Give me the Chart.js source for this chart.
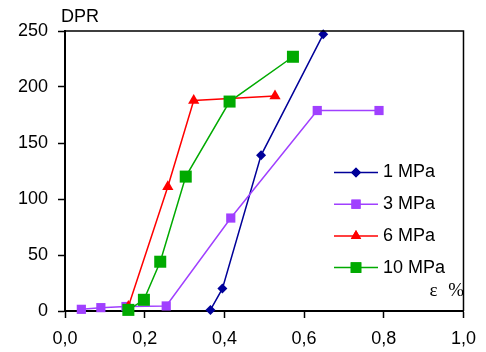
<!DOCTYPE html>
<html lang="en">
<head>
  <meta charset="UTF-8" />
  <title>DPR vs strain</title>
  <style>
    body{margin:0;background:#fff}
    #wrap{width:486px;height:352px}
    canvas{display:block}
  </style>
</head>
<body>
  <div id="wrap"><canvas id="chart"></canvas></div>

  <script src="https://cdn.jsdelivr.net/npm/chart.js"></script>
  <script>
  /* ---------- data ---------- */
  const seriesNames = ['1 MPa','3 MPa','6 MPa','10 MPa'];

  const eps1  = [0.365, 0.395, 0.492, 0.648];
  const dpr1  = [1, 20, 139, 247];

  const eps3  = [0.041, 0.090, 0.153, 0.254, 0.416, 0.633, 0.788];
  const dpr3  = [1.5, 3, 4, 4.5, 83, 179, 179];

  const eps6  = [0.159, 0.258, 0.323, 0.527];
  const dpr6  = [4, 111, 188, 192];

  const eps10 = [0.159, 0.198, 0.239, 0.303, 0.413, 0.572];
  const dpr10 = [1, 10, 44, 120, 187, 227];

  const xTicks = [0, 0.2, 0.4, 0.6, 0.8, 1.0];
  const yTicks = [0, 50, 100, 150, 200, 250];

  const colors  = ['#000099','#a040ff','#ff0000','#00aa00'];
  const shapes  = ['rectRot','rect','triangle','rect'];
  const radii   = [5, 6.5, 6.5, 8.5];
  const legendRadii = [5, 6.5, 6, 7.5];

  const pts = (xs, ys) => xs.map((x,i)=>({x, y:ys[i]}));
  const allX = [eps1, eps3, eps6, eps10];
  const allY = [dpr1, dpr3, dpr6, dpr10];

  const FONT = '"Liberation Sans", Arial, sans-serif';

  const datasets = seriesNames.map((name,i)=>({
    label: name,
    data: pts(allX[i], allY[i]),
    borderColor: colors[i],
    backgroundColor: colors[i],
    borderWidth: 1.5,
    pointStyle: shapes[i],
    pointRadius: radii[i],
    pointHoverRadius: radii[i],
    pointBorderWidth: 0,
    showLine: true,
    tension: 0,
    clip: false,
    order: 3 - i
  }));

  /* ---------- frame, legend, axis captions ---------- */
  const decor = {
    id: 'decor',
    afterDraw(chart){
      const c = chart.ctx, a = chart.chartArea;
      c.save();
      // top + right frame
      c.strokeStyle = '#000';
      c.lineWidth = 1.5;
      c.beginPath();
      c.moveTo(a.left, a.top); c.lineTo(a.right, a.top); c.lineTo(a.right, a.bottom);
      c.stroke();

      // legend
      const lx0 = 334, lx1 = 378, ly0 = 172.5, dy = 31.7;
      chart.data.datasets.forEach((ds,i)=>{
        const y = ly0 + i*dy;
        c.strokeStyle = ds.borderColor;
        c.lineWidth = 1.5;
        c.beginPath(); c.moveTo(lx0, y); c.lineTo(lx1, y); c.stroke();
        c.fillStyle = ds.backgroundColor;
        Chart.helpers.drawPoint(c, {pointStyle: ds.pointStyle, radius: legendRadii[i], borderWidth: 0, rotation: 0}, (lx0+lx1)/2, y);
        c.fill();
        c.fillStyle = '#000';
        c.font = '18px ' + FONT;
        c.textAlign = 'left'; c.textBaseline = 'middle';
        c.fillText(ds.label, 383, y);
      });

      // captions
      c.fillStyle = '#000';
      c.font = '18px ' + FONT;
      c.textAlign = 'left'; c.textBaseline = 'middle';
      c.fillText('DPR', 61, 17);
      c.font = '19px "Liberation Serif", "Times New Roman", serif';
      c.letterSpacing = '3px';
      c.textAlign = 'right';
      c.fillText('ε %', 467, 291);
      c.restore();
    }
  };

  const ctx = document.getElementById('chart').getContext('2d');
  new Chart(ctx, {
    type: 'scatter',
    data: { datasets },
    options: {
      responsive: true,
      maintainAspectRatio: false,
      animation: false,
      layout: { padding: { left: 0, top: 31, right: 18, bottom: 0 } },
      plugins: { legend: { display: false }, tooltip: { enabled: false } },
      scales: {
        x: {
          type: 'linear', min: 0, max: 1,
          afterBuildTicks: s => { s.ticks = xTicks.map(v=>({value:v})); },
          afterFit: s => { s.height = 41; },
          grid: { drawOnChartArea: false, drawTicks: true, tickLength: 7, tickWidth: 1.5, tickColor: '#000' },
          border: { display: true, color: '#000', width: 2 },
          ticks: {
            color: '#000', padding: 10, maxRotation: 0,
            font: { family: FONT, size: 18 },
            callback: v => v.toFixed(1).replace('.', ',')
          }
        },
        y: {
          type: 'linear', min: 0, max: 250,
          afterBuildTicks: s => { s.ticks = yTicks.map(v=>({value:v})); },
          afterFit: s => { s.width = 65; },
          grid: { drawOnChartArea: false, drawTicks: true, tickLength: 7, tickWidth: 1.5, tickColor: '#000' },
          border: { display: true, color: '#000', width: 2 },
          ticks: {
            color: '#000', padding: 10,
            font: { family: FONT, size: 18 }
          }
        }
      }
    },
    plugins: [decor]
  });
  </script>
</body>
</html>
